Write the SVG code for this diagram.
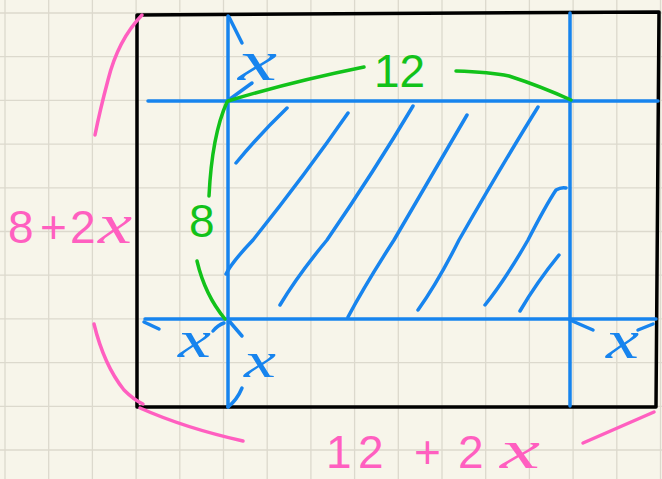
<svg xmlns="http://www.w3.org/2000/svg" width="662" height="479" viewBox="0 0 662 479">
<defs>
<style>
.grid{stroke:#dcd9cd;stroke-width:1.3}
.blue{stroke:#1784ee;stroke-width:3.5;fill:none;stroke-linecap:round;stroke-linejoin:round}
.green{stroke:#12c21a;stroke-width:3.5;fill:none;stroke-linecap:round;stroke-linejoin:round}
.pink{stroke:#ff5fc0;stroke-width:3.5;fill:none;stroke-linecap:round;stroke-linejoin:round}
.box{stroke:#000;stroke-width:3.5;fill:none;stroke-linejoin:round}
.lbl{font-family:"Liberation Sans","DejaVu Sans",sans-serif;font-size:46px}
.xv{font-family:"Liberation Serif","DejaVu Serif",serif;font-style:italic}
.tb{fill:#1784ee}
.tg{fill:#12c21a}
.tp{fill:#ff5fc0}
</style>
</defs>
<rect x="0" y="0" width="662" height="479" fill="#f7f5ea"/>
<g id="grid" class="grid">
<line x1="5" y1="0" x2="5" y2="479"/><line x1="48.7" y1="0" x2="48.7" y2="479"/><line x1="92.4" y1="0" x2="92.4" y2="479"/><line x1="136.1" y1="0" x2="136.1" y2="479"/><line x1="179.8" y1="0" x2="179.8" y2="479"/><line x1="223.5" y1="0" x2="223.5" y2="479"/><line x1="267.2" y1="0" x2="267.2" y2="479"/><line x1="310.9" y1="0" x2="310.9" y2="479"/><line x1="354.6" y1="0" x2="354.6" y2="479"/><line x1="398.3" y1="0" x2="398.3" y2="479"/><line x1="442" y1="0" x2="442" y2="479"/><line x1="485.7" y1="0" x2="485.7" y2="479"/><line x1="529.4" y1="0" x2="529.4" y2="479"/><line x1="573.1" y1="0" x2="573.1" y2="479"/><line x1="616.8" y1="0" x2="616.8" y2="479"/><line x1="660.5" y1="0" x2="660.5" y2="479"/>
<line x1="0" y1="13" x2="662" y2="13"/><line x1="0" y1="56.7" x2="662" y2="56.7"/><line x1="0" y1="100.4" x2="662" y2="100.4"/><line x1="0" y1="144.1" x2="662" y2="144.1"/><line x1="0" y1="187.8" x2="662" y2="187.8"/><line x1="0" y1="231.5" x2="662" y2="231.5"/><line x1="0" y1="275.2" x2="662" y2="275.2"/><line x1="0" y1="318.9" x2="662" y2="318.9"/><line x1="0" y1="362.6" x2="662" y2="362.6"/><line x1="0" y1="406.3" x2="662" y2="406.3"/><line x1="0" y1="450" x2="662" y2="450"/>
</g>
<g id="outer-box">
<path class="box" d="M137,15 L659,12 L656,407 L137,407 Z"/>
</g>
<g id="cut-lines" class="blue">
<line x1="228" y1="16" x2="228" y2="407"/>
<line x1="570" y1="13" x2="570" y2="406"/>
<line x1="148" y1="101" x2="658" y2="101"/>
<line x1="145" y1="319" x2="656" y2="319"/>
<path d="M229,17 L242,43"/>
<path d="M230,99 L252,83"/>
<path d="M144,322 L159,329"/>
<path d="M213,331 Q218,325 224,323"/>
<path d="M230,322 L242,336"/>
<path d="M228,407 Q237,400 242,388"/>
<path d="M570,320 L593,330"/>
<path d="M638,330 L653,324"/>
</g>
<g id="hatching" class="blue">
<path d="M236,163 Q258,136 287,108"/>
<path d="M226,274 Q232,262 253,240 Q305,175 348,113"/>
<path d="M280,305 Q298,275 327,240 Q375,170 413,106"/>
<path d="M348,317 Q365,285 394,240 Q435,170 467,115"/>
<path d="M418,310 Q438,282 459,240 Q505,160 538,107"/>
<path d="M485,305 Q505,280 528,240 Q546,205 556,190 Q561,187 566,188"/>
<path d="M520,311 Q537,282 559,255"/>
</g>
<g id="dim-green" class="green">
<path d="M228,101 Q290,82 364,67"/>
<path d="M456,71 Q490,72 509,76 Q540,86 571,100"/>
<path d="M227,102 Q212,135 209,196"/>
<path d="M197,261 Q205,295 225,319"/>
</g>
<g id="dim-pink" class="pink">
<path d="M142,15 Q118,40 108,80 Q100,110 95,135"/>
<path d="M94,324 Q104,365 124,390 Q134,400 143,404"/>
<path d="M140,408 Q185,428 243,441"/>
<path d="M583,443 L654,412"/>
</g>
<g id="labels">
<text class="tb xv" x="238" y="80" font-size="56" textLength="39" lengthAdjust="spacingAndGlyphs">x</text>
<text class="tb xv" x="178" y="357" font-size="52" textLength="33" lengthAdjust="spacingAndGlyphs">x</text>
<text class="tb xv" x="244" y="377" font-size="50" textLength="32" lengthAdjust="spacingAndGlyphs">x</text>
<text class="tb xv" x="606" y="358" font-size="54" textLength="33" lengthAdjust="spacingAndGlyphs">x</text>
<text class="tg lbl" x="374" y="87">12</text>
<text class="tg lbl" x="189" y="237">8</text>
<text class="tp lbl" x="8" y="243" font-size="52"><tspan>8</tspan><tspan x="40">+</tspan><tspan x="70">2</tspan><tspan class="xv" x="98" font-size="56" textLength="34" lengthAdjust="spacingAndGlyphs">x</tspan></text>
<text class="tp lbl" y="468"><tspan x="326">1</tspan><tspan x="358">2</tspan><tspan x="414">+</tspan><tspan x="458">2</tspan><tspan class="xv" x="500" font-size="54" textLength="40" lengthAdjust="spacingAndGlyphs">x</tspan></text>
</g>
</svg>
